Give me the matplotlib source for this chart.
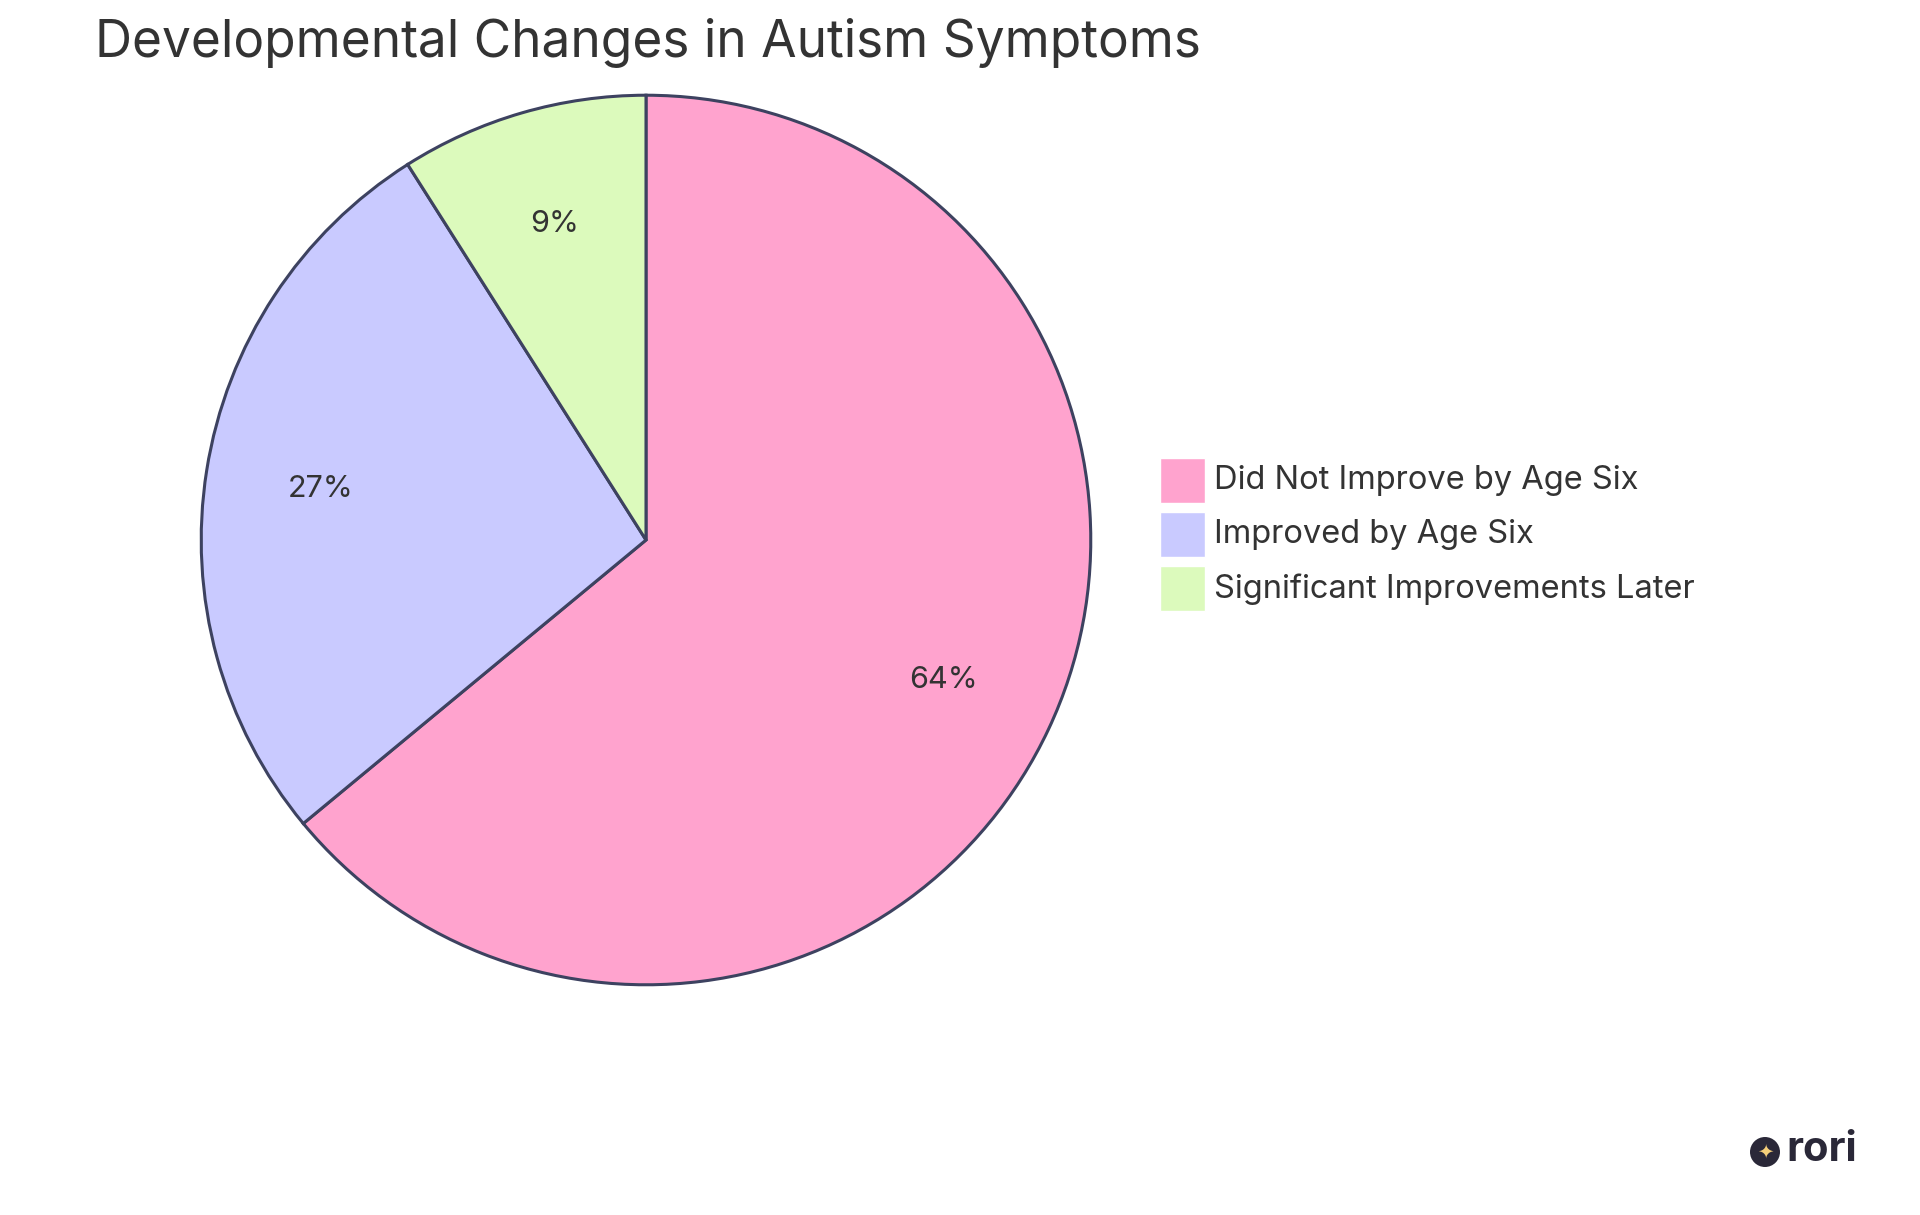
import matplotlib
matplotlib.use("Agg")
import matplotlib.pyplot as plt
from matplotlib.patches import Rectangle, Ellipse

labels = ["Did Not Improve by Age Six", "Improved by Age Six", "Significant Improvements Later"]
values = [64, 27, 9]
colors = ["#FFA3CE", "#C9CAFF", "#DCFABC"]

plt.rcParams['font.family'] = ['Inter', 'DejaVu Sans']
W, H = 1920, 1215
fig = plt.figure(figsize=(W/100, H/100), dpi=100)

cx, cy, r = 646, 540, 447
ax = fig.add_axes([(cx-r)/W, (H-cy-r)/H, 2*r/W, 2*r/H])
wedges, texts, autotexts = ax.pie(values, colors=colors, startangle=90, counterclock=False,
       autopct=lambda p: f"{p:.0f}%", pctdistance=0.74,
       wedgeprops=dict(edgecolor="#3D4260", linewidth=2.2),
       textprops=dict(fontsize=22, color="#333333"))
ax.set_xlim(-1.005, 1.005); ax.set_ylim(-1.005, 1.005)
ax.set_aspect('equal')

fig.text(95/W, 1-43/H, "Developmental Changes in Autism Symptoms", fontsize=37,
         color="#333333", va="center", ha="left")

for i, (lab, col) in enumerate(zip(labels, colors)):
    y = 481 + i*54
    fig.patches.append(Rectangle((1160/W, 1-(y+22)/H), 45/W, 45/H, transform=fig.transFigure,
                                 facecolor=col, edgecolor="white", linewidth=1))
    fig.text(1214/W, 1-y/H, lab, fontsize=23.5, color="#333333", va="center", ha="left")

# logo
fig.patches.append(Ellipse((1765/W, 1-1152/H), 30/W, 30/H, transform=fig.transFigure, facecolor="#2A2838"))
fig.text(1765/W, 1-1152/H, "✦", fontsize=14, color="#F5CF7A", ha="center", va="center", family="DejaVu Sans")
fig.text(1786/W, 1-1150/H, "rori", fontsize=30, fontweight="bold", color="#2A2838", ha="left", va="center")

fig.savefig("out.png", dpi=100, facecolor="white")
